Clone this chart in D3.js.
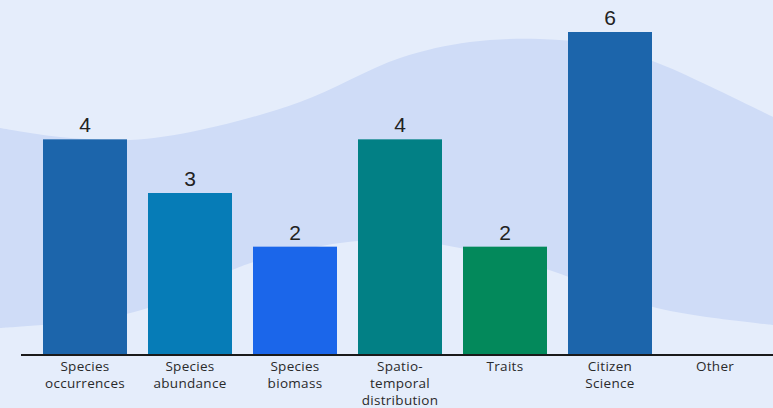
<!DOCTYPE html>
<html>
<head>
<meta charset="utf-8">
<script src="https://cdn.jsdelivr.net/npm/d3@7"></script>
<style>
  html, body { margin: 0; padding: 0; background: #e5edfb; }
  svg { display: block; }
</style>
</head>
<body>
<svg id="chart" width="773" height="408"></svg>
<script>
const categories = ["Species\noccurrences", "Species\nabundance", "Species\nbiomass", "Spatio-\ntemporal\ndistribution", "Traits", "Citizen\nScience", "Other"];
const values = [4, 3, 2, 4, 2, 6, 0];
const barColors = ["#1c65ab", "#067cb7", "#1b66ea", "#028085", "#03895b", "#1c65ab", "#1c65ab"];

// decorative background wave (top edge and bottom edge, in pixel space)
const waveTop = [[0,128],[60,137],[130,140],[200,130],[300,102],[400,58],[470,42],[540,39],[600,45],[655,62],[705,84],[773,117]];
const waveBottom = [[773,325],[700,316],[653,307],[600,290],[555,272],[460,248],[400,240],[340,243],[260,260],[232,270],[148,308],[90,320],[0,328]];

const svg = d3.select("#chart");
const W = 773, H = 408;

svg.append("rect").attr("width", W).attr("height", H).attr("fill", "#e5edfb");

const line = d3.line().curve(d3.curveCatmullRom.alpha(0.5));
const topPath = line(waveTop);
const botPath = line(waveBottom).replace(/^M/, "L");
svg.append("path").attr("d", topPath + botPath + "Z").attr("fill", "#cfdcf7");

const x = d3.scaleBand().domain(d3.range(categories.length)).range([22, 778]).paddingInner(0.2).paddingOuter(0.2);
const y = d3.scaleLinear().domain([0, 6]).range([354, 32]);

const data = values.map((v, i) => ({ i, v, label: categories[i] }));

svg.selectAll("rect.bar").data(data.filter(d => d.v > 0)).join("rect")
  .attr("class", "bar")
  .attr("x", d => x(d.i))
  .attr("width", x.bandwidth())
  .attr("y", d => y(d.v))
  .attr("height", d => y(0) - y(d.v))
  .attr("fill", d => barColors[d.i]);

svg.selectAll("text.val").data(data.filter(d => d.v > 0)).join("text")
  .attr("class", "val")
  .attr("x", d => x(d.i) + x.bandwidth() / 2)
  .attr("y", d => y(d.v) - 7)
  .attr("text-anchor", "middle")
  .attr("font-family", "Liberation Sans, Arial, sans-serif")
  .attr("font-size", 21)
  .attr("fill", "#222")
  .text(d => d.v);

// axis
const axis = d3.axisBottom(x).tickSize(0).tickFormat(() => "");
const gx = svg.append("g").attr("transform", `translate(0,${y(0)})`).call(axis);
gx.select(".domain").remove();
svg.append("line").attr("x1", 21).attr("x2", W).attr("y1", y(0) + 1).attr("y2", y(0) + 1)
  .attr("stroke", "#1a1a1a").attr("stroke-width", 2);

const labels = svg.selectAll("text.cat").data(data).join("text")
  .attr("class", "cat")
  .attr("text-anchor", "middle")
  .attr("font-family", "'Open Sans', 'Noto Sans', sans-serif")
  .attr("font-size", 13.5)
  .attr("letter-spacing", 0.3)
  .attr("fill", "#2a2a2a");
labels.each(function(d) {
  const t = d3.select(this);
  d.label.split("\n").forEach((s, k) => {
    t.append("tspan").attr("x", x(d.i) + x.bandwidth() / 2).attr("y", y(0) + 17 + k * 17).text(s);
  });
});
</script>
</body>
</html>
